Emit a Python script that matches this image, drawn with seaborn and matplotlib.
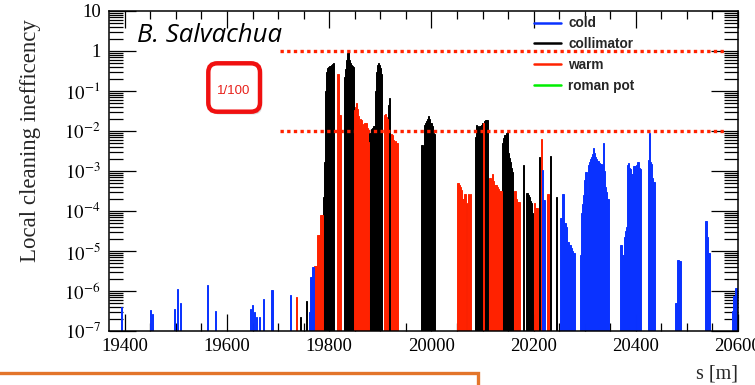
import numpy as np
import pandas as pd
import matplotlib
matplotlib.use("Agg")
import matplotlib.pyplot as plt
import seaborn as sns
from matplotlib.lines import Line2D
from matplotlib.patches import FancyBboxPatch, Rectangle
from matplotlib.transforms import IdentityTransform
from matplotlib.ticker import MultipleLocator, LogLocator, FuncFormatter, NullFormatter

# losses per 2 m bin
cold_s = [19394, 19450, 19454, 19498, 19504, 19508, 19562, 19578, 19646, 19650,
          19654, 19658, 19664, 19672, 19688, 19724, 19762, 19764, 19766, 19768, 19770,
          20218, 20220, 20222,
          20252, 20254, 20256, 20258, 20260, 20262, 20264, 20266, 20268, 20270,
          20272, 20274, 20276, 20278, 20280,
          20292, 20294, 20296, 20298, 20300, 20302, 20304, 20306, 20308, 20310,
          20312, 20314, 20316, 20318, 20320, 20322, 20324, 20326, 20328, 20330,
          20332, 20334, 20336, 20338, 20340, 20342, 20344, 20346,
          20370, 20372, 20374, 20376, 20378, 20380, 20382, 20384, 20386, 20388,
          20390, 20392, 20394, 20396, 20398, 20400, 20402, 20404, 20406, 20408, 20410,
          20424, 20426, 20428, 20430, 20432, 20434, 20436,
          20478, 20480, 20482, 20484, 20486, 20488,
          20536, 20538, 20540, 20542, 20544,
          20590, 20592, 20594, 20596, 20598]
cold_v = [4.0e-7, 3.3e-7, 2.6e-7, 3.5e-7, 1.1e-6, 5.0e-7, 1.4e-6, 3.2e-7, 3.5e-7, 4.5e-7,
          3.0e-7, 2.2e-7, 2.3e-7, 6.2e-7, 1.05e-6, 8.0e-7, 3.0e-7, 2.3e-6, 2.3e-6, 3.9e-6, 3.9e-6,
          1.06e-3, 1.9e-4, 1.9e-4,
          6.6e-5, 6.6e-5, 2.6e-4, 2.6e-4, 5e-5, 5e-5, 4e-5, 1.7e-5, 1.7e-5, 1.4e-5,
          1.4e-5, 1.2e-5, 1.0e-5, 8.8e-6, 8.8e-6,
          7.9e-6, 8.8e-5, 1.5e-4, 2.5e-4, 6e-4, 9.6e-4, 9.6e-4, 2.5e-4, 1.4e-3, 1.7e-3,
          2.0e-3, 2.2e-3, 2.6e-3, 3.7e-3, 2.8e-3, 2.3e-3, 2.0e-3, 1.8e-3, 1.6e-3, 1.5e-3,
          1.5e-3, 1.4e-3, 4.9e-3, 1.0e-3, 4.0e-4, 3.0e-4, 2.0e-4, 2.0e-4,
          1.4e-5, 1.4e-5, 8e-6, 8e-6, 2.3e-5, 3.2e-5, 4e-5, 1.4e-3, 1.6e-3, 1.2e-3,
          1.1e-3, 8.6e-4, 8.6e-4, 1.3e-3, 1.3e-3, 1.3e-3, 1.4e-3, 1.7e-3, 1.7e-3, 1.2e-3, 1.1e-3,
          1.9e-3, 8.7e-3, 1.7e-3, 1.5e-3, 6.6e-4, 5.3e-4, 5.3e-4,
          4.9e-7, 4.9e-7, 6e-6, 6e-6, 5.5e-6, 5.5e-6,
          5.7e-5, 5.7e-5, 2.3e-5, 9e-6, 9e-6,
          3.2e-7, 7.3e-7, 7.3e-7, 1.2e-6, 1.2e-6]

coll_s = [19744, 19756,
          19788, 19790, 19792, 19794, 19796, 19798, 19800, 19802, 19804, 19806, 19808,
          19830, 19832, 19834, 19836, 19838, 19840, 19842, 19844, 19846, 19848,
          19878, 19880, 19882, 19884, 19886, 19888, 19890, 19892, 19894, 19896,
          19898, 19900, 19902, 19916, 19918,
          19980, 19982, 19984, 19986, 19988, 19990, 19992, 19994, 19996, 19998,
          20000, 20002, 20004, 20006,
          20068, 20086, 20088, 20090, 20092, 20094, 20096, 20098, 20100, 20104,
          20106, 20108, 20110,
          20140, 20142, 20144, 20146, 20148, 20150, 20152, 20154, 20156, 20158,
          20180, 20186, 20188, 20190, 20192, 20194, 20196, 20198,
          20212, 20234, 20244]
coll_v = [2.2e-7, 5.7e-7,
          2.3e-4, 1.7e-3, 0.1, 0.3, 0.37, 0.4, 0.42, 0.42, 0.45, 0.48, 0.49,
          0.23, 0.35, 0.6, 0.87, 0.92, 0.6, 0.5, 0.45, 0.42, 0.4,
          0.0087, 0.0087, 0.011, 0.012, 0.013, 0.013, 0.1, 0.3, 0.45, 0.5,
          0.45, 0.38, 0.27, 0.045, 0.066,
          0.0045, 0.0045, 0.004, 0.014, 0.0155, 0.018, 0.02, 0.024, 0.02, 0.016,
          0.0155, 0.013, 0.009, 0.0085,
          1.5e-4, 0.0072, 0.014, 0.013, 0.012, 0.013, 0.013, 0.014, 0.016, 0.018,
          0.019, 0.019, 0.019,
          0.005, 0.0065, 0.008, 0.009, 0.0093, 0.0028, 0.0021, 0.0017, 0.0012, 0.00096,
          1.4e-3, 2.9e-4, 2.9e-4, 2.5e-4, 2.2e-4, 1.8e-4, 1.6e-4, 8.8e-5,
          2.3e-3, 2.4e-3, 2.3e-4]

warm_s = [19736, 19772, 19774, 19776, 19778, 19780, 19782, 19784, 19786,
          19816, 19818, 19820, 19822,
          19850, 19852, 19854, 19856, 19858, 19860, 19862, 19864, 19866, 19868,
          19870, 19872, 19874, 19876,
          19908, 19910, 19912, 19914, 19922, 19924, 19926, 19928, 19930, 19932, 19934,
          20052, 20054, 20056, 20058, 20060, 20062, 20064, 20066, 20070, 20072,
          20074, 20076, 20102,
          20114, 20116, 20118, 20120, 20122, 20124, 20126, 20128, 20130, 20132,
          20134, 20136, 20138,
          20162, 20164, 20166, 20168, 20170, 20172,
          20202, 20204, 20206, 20208, 20216, 20228, 20230]
warm_v = [7e-7, 4.2e-6, 4.2e-6, 4.3e-6, 2.5e-5, 2.5e-5, 8e-5, 8e-5, 8e-5,
          0.27, 0.27, 0.025, 0.025,
          0.034, 0.04, 0.049, 0.035, 0.024, 0.014, 0.02, 0.019, 0.012, 0.015,
          0.016, 0.016, 0.012, 0.0054,
          0.025, 0.027, 0.022, 0.02, 0.0085, 0.008, 0.006, 0.005, 0.0055, 0.005, 0.005,
          4.9e-4, 4.5e-4, 4.0e-4, 3.3e-4, 2.0e-4, 1.95e-4, 2.6e-4, 2.6e-4, 1.6e-4, 2.6e-4,
          2.5e-4, 2.6e-4, 0.016,
          6.6e-4, 6.6e-4, 6.0e-4, 8.4e-4, 5.5e-4, 4.5e-4, 4.5e-4, 4.5e-4, 4.0e-4, 3.6e-4,
          3.2e-4, 3.2e-4, 3.2e-4,
          3.2e-4, 3.2e-4, 2.0e-4, 1.7e-4, 1.7e-4, 1.7e-4,
          1.56e-4, 1.2e-4, 1.2e-4, 1.2e-4, 6.2e-3, 2.6e-4, 2.6e-4]

threshold_y = [1, 0.01]
legend_labels = ["cold", "collimator", "warm", "roman pot"]

BLUE = "#0a32ff"
BLACK = "#000000"
RED = "#ff2200"
GREEN = "#00ee00"

sns.set_theme(style="ticks")
plt.rcParams["font.family"] = ["Liberation Serif", "DejaVu Serif"]
plt.rcParams["mathtext.fontset"] = "stix"
plt.rcParams["axes.linewidth"] = 1.1

fig = plt.figure(figsize=(7.55, 3.85), dpi=100)
ax = fig.add_axes([109 / 755, 1 - 331 / 385, 629 / 755, 320 / 385])

for s, v, c in [(coll_s, coll_v, BLACK), (warm_s, warm_v, RED), (cold_s, cold_v, BLUE)]:
    df = pd.DataFrame({"s": s, "loss": v})
    sns.histplot(data=df, x="s", weights="loss", binwidth=2, binrange=(19367, 20601),
                 color=c, alpha=1, linewidth=0.7, edgecolor=c, ax=ax)

ax.set_yscale("log")
ax.set_ylim(1e-7, 10)
ax.set_xlim(19369, 20600)

ax.hlines(threshold_y, 19704, 20577, colors=RED, linewidth=2.4, linestyles=(0, (1, 1)))

# axes / ticks, ROOT-like
ax.xaxis.set_major_locator(MultipleLocator(200))
ax.xaxis.set_minor_locator(MultipleLocator(50))
ax.yaxis.set_major_locator(LogLocator(base=10, numticks=20))
ax.yaxis.set_minor_locator(LogLocator(base=10, subs=np.arange(2, 10), numticks=20))
ax.yaxis.set_minor_formatter(NullFormatter())


def yfmt(v, pos):
    e = int(round(np.log10(v)))
    if e == 0:
        return "1"
    if e == 1:
        return "10"
    return r"$10^{%d}$" % e


ax.yaxis.set_major_formatter(FuncFormatter(yfmt))
ax.tick_params(which="both", direction="in", top=True, right=True, colors="black")
ax.tick_params(axis="x", which="major", length=12, width=0.9, labelsize=13.5, pad=5)
ax.tick_params(axis="x", which="minor", length=6, width=0.9)
ax.tick_params(axis="y", which="major", length=19.5, width=0.9, labelsize=13.5, pad=6)
ax.tick_params(axis="y", which="minor", length=10, width=0.9)
for sp in ax.spines.values():
    sp.set_color("black")

ax.set_ylabel("Local cleaning inefficency", fontsize=16.5)
ax.yaxis.set_label_coords(-0.108, 0.595)
ax.set_xlabel("s [m]", fontsize=14.5, loc="right")
ax.xaxis.set_label_coords(1.0, -0.105)
ax.xaxis.label.set_va("top")

handles = [Line2D([], [], color=c, lw=1.8) for c in [BLUE, BLACK, RED, GREEN]]
ax.legend(handles, legend_labels, loc="upper left", bbox_to_anchor=(0.676, 0.983),
          frameon=False, borderpad=0, borderaxespad=0, handlelength=2.0,
          handletextpad=0.5, labelspacing=0.5,
          prop={"family": "Liberation Sans", "weight": "bold", "size": 9.8})

fig.text(136.7 / 755, 1 - 41.7 / 385, "B. Salvachua", fontsize=18.5, style="italic",
         family=["Open Sans", "DejaVu Sans"], color="black", va="baseline")

# rounded red "1/100" box with a faint shadow
shadow = FancyBboxPatch((210.5, 385 - 114.5), 51.7, 48.4,
                        boxstyle="round,pad=0,rounding_size=9",
                        transform=IdentityTransform(), facecolor="#999999",
                        edgecolor="none", alpha=0.35)
box = FancyBboxPatch((208.3, 385 - 111.7), 51.7, 48.4,
                     boxstyle="round,pad=0,rounding_size=9",
                     transform=IdentityTransform(), facecolor="white",
                     edgecolor="#f01010", linewidth=3.2)
fig.add_artist(shadow)
fig.add_artist(box)
fig.text(234 / 755, 1 - 91.5 / 385, "1/100", fontsize=9.5, color="#e8201a",
         family=["Liberation Sans"], ha="center", va="center")

# orange frame cut by the bottom edge
fig.add_artist(Rectangle((-10, -30), 487.7, 30 + 11.7, transform=IdentityTransform(),
                         fill=False, edgecolor="#e3752a", linewidth=2.4))

fig.savefig("out.png", dpi=100)
